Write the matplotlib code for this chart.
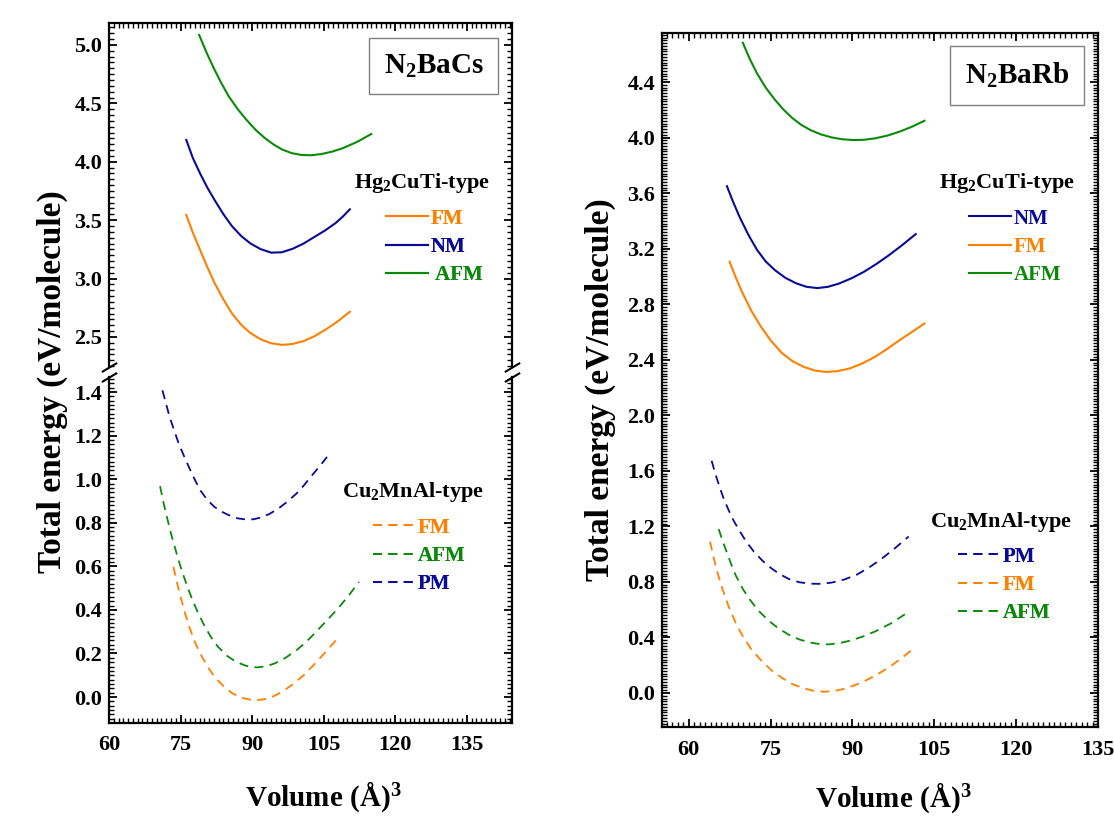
import numpy as np
import matplotlib
matplotlib.use("Agg")
from matplotlib import pyplot as plt
from matplotlib.ticker import MultipleLocator, FormatStrFormatter

plt.rcParams['font.family'] = ['Liberation Serif', 'DejaVu Serif']
plt.rcParams['font.weight'] = 'bold'
plt.rcParams['mathtext.fontset'] = 'custom'
plt.rcParams['mathtext.rm'] = 'Liberation Serif:bold'
plt.rcParams['mathtext.bf'] = 'Liberation Serif:bold'
plt.rcParams['mathtext.default'] = 'rm'

ORANGE = '#FF8000'
BLUE = '#0A0A9A'
GREEN = '#0A8A0A'

# ---------------- N2BaCs (left panel) ----------------
# Hg2CuTi-type (solid)
cs_afm_v = [78.9, 80.5, 82.1, 83.6, 85.1, 87.0, 88.8, 90.7, 92.6, 94.5, 96.3,
            98.3, 100.4, 102.5, 104.5, 106.7, 109.0, 112.0, 115.0]
cs_afm_e = [5.086, 4.93, 4.79, 4.67, 4.56, 4.45, 4.36, 4.275, 4.205, 4.148, 4.105,
            4.074, 4.058, 4.056, 4.066, 4.086, 4.116, 4.17, 4.238]
cs_nm_v = [76.2, 77.6, 79.1, 80.6, 82.1, 84.0, 85.8, 87.7, 89.6, 91.8, 94.0,
           96.2, 98.5, 100.8, 103.0, 105.3, 107.5, 109.0, 110.5]
cs_nm_e = [4.187, 4.03, 3.90, 3.78, 3.675, 3.55, 3.448, 3.365, 3.302, 3.252, 3.222,
           3.225, 3.255, 3.30, 3.355, 3.412, 3.475, 3.53, 3.593]
cs_fm_v = [76.2, 77.6, 79.1, 80.6, 82.1, 84.0, 85.8, 87.7, 89.6, 91.8, 94.0,
           96.3, 98.5, 100.8, 103.0, 105.3, 108.0, 110.5]
cs_fm_e = [3.545, 3.39, 3.245, 3.10, 2.965, 2.82, 2.70, 2.605, 2.535, 2.48, 2.446,
           2.432, 2.44, 2.465, 2.505, 2.56, 2.635, 2.716]
# Cu2MnAl-type (dashed)
cs_pm2_v = [71.2, 72.7, 74.6, 76.1, 77.6, 79.1, 80.6, 82.1, 83.6, 85.1, 87.0, 88.8,
            90.3, 91.8, 93.6, 95.5, 97.4, 99.3, 100.8, 102.3, 104.0, 105.7]
cs_pm2_e = [1.408, 1.286, 1.164, 1.087, 1.015, 0.950, 0.905, 0.873, 0.851, 0.835, 0.82, 0.815,
            0.816, 0.824, 0.84, 0.865, 0.897, 0.934, 0.97, 1.011, 1.055, 1.102]
cs_afm2_v = [70.7, 71.5, 72.3, 73.0, 73.8, 74.5, 75.3, 76.4, 77.6, 78.7, 79.8, 81.3, 82.8,
             84.7, 86.6, 88.8, 91.0, 92.9, 94.8, 97.0, 99.3, 101.2, 103.0, 105.6, 108.3,
             110.4, 112.4]
cs_afm2_e = [0.968, 0.885, 0.812, 0.75, 0.688, 0.634, 0.578, 0.508, 0.44, 0.385, 0.336, 0.278,
             0.232, 0.19, 0.162, 0.143, 0.136, 0.141, 0.155, 0.18, 0.215, 0.25, 0.29, 0.35,
             0.414, 0.47, 0.529]
cs_fm2_v = [73.5, 74.2, 75.0, 75.9, 76.8, 77.9, 79.1, 80.6, 82.1, 83.9, 85.8, 87.7, 89.6,
            91.1, 92.6, 94.4, 96.3, 98.5, 100.8, 102.6, 104.5, 106.2, 107.9]
cs_fm2_e = [0.598, 0.53, 0.46, 0.388, 0.324, 0.258, 0.2, 0.142, 0.094, 0.052, 0.018, -0.003,
            -0.012, -0.014, -0.01, 0.003, 0.024, 0.058, 0.1, 0.14, 0.185, 0.226, 0.269]

# ---------------- N2BaRb (right panel) ----------------
rb_afm_v = [69.9, 71.2, 72.5, 74.1, 75.8, 77.4, 79.0, 80.6, 82.3, 84.2, 86.2, 88.1,
            90.1, 92.1, 94.1, 96.4, 98.6, 100.9, 103.2]
rb_afm_e = [4.683, 4.565, 4.463, 4.36, 4.272, 4.2, 4.14, 4.092, 4.054, 4.023, 4.001, 3.988,
            3.982, 3.984, 3.994, 4.014, 4.042, 4.078, 4.121]
rb_nm_v = [67.0, 68.1, 69.3, 70.9, 72.5, 74.1, 75.8, 77.7, 79.7, 81.6, 83.6, 85.5,
           87.5, 89.8, 92.1, 94.4, 96.7, 99.2, 101.6]
rb_nm_e = [3.65, 3.54, 3.43, 3.302, 3.192, 3.108, 3.045, 2.99, 2.95, 2.925, 2.916, 2.925,
           2.948, 2.986, 3.033, 3.09, 3.153, 3.228, 3.305]
rb_fm_v = [67.5, 68.7, 69.9, 71.5, 73.2, 75.1, 77.1, 79.0, 81.0, 83.1, 85.2, 87.3,
           89.5, 91.8, 94.1, 96.3, 98.6, 100.9, 103.2]
rb_fm_e = [3.105, 2.985, 2.877, 2.75, 2.64, 2.535, 2.447, 2.39, 2.35, 2.322, 2.312, 2.318,
           2.337, 2.373, 2.42, 2.476, 2.54, 2.60, 2.661]
rb_pm2_v = [64.2, 64.9, 65.6, 66.4, 67.3, 68.2, 69.2, 70.5, 71.9, 73.5, 75.1, 76.7,
            78.4, 80.3, 82.3, 84.2, 86.2, 88.5, 90.8, 93.1, 95.4, 97.8, 100.3]
rb_pm2_e = [1.672, 1.575, 1.49, 1.40, 1.318, 1.243, 1.175, 1.092, 1.02, 0.953, 0.899, 0.855,
            0.82, 0.797, 0.787, 0.786, 0.795, 0.817, 0.852, 0.905, 0.968, 1.043, 1.127]
rb_afm2_v = [65.5, 66.2, 67.0, 67.8, 68.6, 69.9, 71.2, 72.8, 74.5, 76.4, 78.4, 80.3,
             82.3, 84.0, 85.6, 87.5, 89.5, 91.8, 94.1, 97.0, 99.9]
rb_afm2_e = [1.18, 1.095, 1.01, 0.925, 0.848, 0.75, 0.672, 0.592, 0.526, 0.466, 0.418, 0.385,
             0.363, 0.352, 0.35, 0.358, 0.376, 0.405, 0.442, 0.5, 0.574]
rb_fm2_v = [63.9, 64.6, 65.3, 66.3, 67.3, 68.6, 69.9, 71.5, 73.2, 75.1, 77.1, 79.0,
            81.0, 82.9, 84.9, 86.8, 88.8, 90.7, 92.7, 94.7, 96.7, 98.8, 100.9]
rb_fm2_e = [1.09, 0.97, 0.862, 0.735, 0.624, 0.505, 0.408, 0.313, 0.238, 0.165, 0.108, 0.064,
            0.034, 0.016, 0.009, 0.015, 0.033, 0.06, 0.095, 0.137, 0.185, 0.245, 0.31]

x_ticks = [60, 75, 90, 105, 120, 135]

DASH = (0, (5, 3.5))
LW_SOLID = 1.5
LW_DASH = 1.3


def style_axes(ax, ymajor, yminor):
    ax.tick_params(which='both', direction='in', top=True, right=True,
                   labelsize=16)
    ax.tick_params(axis='x', pad=9)
    ax.tick_params(axis='y', pad=5)
    ax.tick_params(which='major', length=6, width=1.3)
    ax.tick_params(which='minor', length=3.5, width=1.0)
    ax.xaxis.set_minor_locator(MultipleLocator(1))
    ax.yaxis.set_major_locator(MultipleLocator(ymajor))
    ax.yaxis.set_minor_locator(MultipleLocator(yminor))
    ax.yaxis.set_major_formatter(FormatStrFormatter('%.1f'))
    for sp in ax.spines.values():
        sp.set_linewidth(1.6)


def group_legend(ax, handles, colors, title, title_xy, anchor):
    leg = ax.legend(handles, [h.get_label() for h in handles],
                    loc='center left', bbox_to_anchor=anchor, frameon=False,
                    fontsize=15, borderpad=0, borderaxespad=0,
                    handlelength=2.0, handletextpad=0.15, labelspacing=0.4)
    for txt, c in zip(leg.get_texts(), colors):
        txt.set_color(c)
    ax.add_artist(leg)
    ax.text(title_xy[0], title_xy[1], title, transform=ax.transAxes,
            ha='center', va='center', fontsize=16)


def break_marks(ax, ypos):
    kw = dict(marker=[(-1, -0.6), (1, 0.6)], markersize=11, linestyle='none',
              color='k', mec='k', mew=1.5, clip_on=False)
    ax.plot([0, 1], [ypos, ypos], transform=ax.transAxes, **kw)


def name_box(ax, x, y, s):
    ax.text(x, y, s, transform=ax.transAxes, ha='center', va='center', fontsize=21,
            bbox=dict(boxstyle='square,pad=0.5', fc='white', ec='#808080', lw=1))


fig = plt.figure(figsize=(11.14, 8.19), dpi=100)

# left panel: broken y-axis
ax_top = fig.add_axes([0.09785, 0.5519, 0.3618, 0.4200])
ax_bot = fig.add_axes([0.09785, 0.11722, 0.3618, 0.42247])

h_top = ax_top.plot(cs_fm_v, cs_fm_e, color=ORANGE, lw=LW_SOLID, label='FM')
h_top += ax_top.plot(cs_nm_v, cs_nm_e, color=BLUE, lw=LW_SOLID, label='NM')
h_top += ax_top.plot(cs_afm_v, cs_afm_e, color=GREEN, lw=LW_SOLID, label=' AFM')

h_bot = ax_bot.plot(cs_fm2_v, cs_fm2_e, color=ORANGE, lw=LW_DASH, ls=DASH, label='FM')
h_bot += ax_bot.plot(cs_afm2_v, cs_afm2_e, color=GREEN, lw=LW_DASH, ls=DASH, label='AFM')
h_bot += ax_bot.plot(cs_pm2_v, cs_pm2_e, color=BLUE, lw=LW_DASH, ls=DASH, label='PM')

for ax in (ax_top, ax_bot):
    ax.set_xlim(60, 144.5)
    ax.set_xticks(x_ticks)

ax_top.set_ylim(2.243, 5.188)
ax_bot.set_ylim(-0.119, 1.469)
style_axes(ax_top, 0.5, 0.05)
style_axes(ax_bot, 0.2, 0.02)
ax_top.spines['bottom'].set_visible(False)
ax_top.tick_params(which='both', bottom=False, labelbottom=False)
ax_bot.spines['top'].set_visible(False)
ax_bot.tick_params(which='both', top=False)
break_marks(ax_top, 0)
break_marks(ax_bot, 1)

group_legend(ax_top, h_top, [ORANGE, BLUE, GREEN], 'Hg$_2$CuTi-type',
             (0.777, 0.535), (0.687, 0.349))
group_legend(ax_bot, h_bot, [ORANGE, GREEN, BLUE], 'Cu$_2$MnAl-type',
             (0.754, 0.6676), (0.655, 0.4827))
name_box(ax_top, 0.806, 0.875, 'N$_2$BaCs')

# right panel
ax_r = fig.add_axes([0.59425, 0.11233, 0.39138, 0.84737])
h_r1 = ax_r.plot(rb_nm_v, rb_nm_e, color=BLUE, lw=LW_SOLID, label='NM')
h_r1 += ax_r.plot(rb_fm_v, rb_fm_e, color=ORANGE, lw=LW_SOLID, label='FM')
h_r1 += ax_r.plot(rb_afm_v, rb_afm_e, color=GREEN, lw=LW_SOLID, label='AFM')
h_r2 = ax_r.plot(rb_pm2_v, rb_pm2_e, color=BLUE, lw=LW_DASH, ls=DASH, label='PM')
h_r2 += ax_r.plot(rb_fm2_v, rb_fm2_e, color=ORANGE, lw=LW_DASH, ls=DASH, label='FM')
h_r2 += ax_r.plot(rb_afm2_v, rb_afm2_e, color=GREEN, lw=LW_DASH, ls=DASH, label='AFM')

ax_r.set_xlim(55.1, 135)
ax_r.set_xticks(x_ticks)
ax_r.set_ylim(-0.245, 4.753)
style_axes(ax_r, 0.4, 0.02)

group_legend(ax_r, h_r1, [BLUE, ORANGE, GREEN], 'Hg$_2$CuTi-type',
             (0.791, 0.7839), (0.704, 0.6916))
group_legend(ax_r, h_r2, [BLUE, ORANGE, GREEN], 'Cu$_2$MnAl-type',
             (0.7775, 0.2954), (0.679, 0.2046))
name_box(ax_r, 0.814, 0.939, 'N$_2$BaRb')

# axis labels
fig.text(52 / 1114, 1 - 382 / 819, 'Total energy (eV/molecule)', rotation=90,
         ha='center', va='center', fontsize=24)
fig.text(600 / 1114, 1 - 390 / 819, 'Total energy (eV/molecule)', rotation=90,
         ha='center', va='center', fontsize=24)
fig.text(323 / 1114, 1 - 797 / 819, 'Volume (Å)$^3$', ha='center', va='center',
         fontsize=21)
fig.text(893 / 1114, 1 - 798 / 819, 'Volume (Å)$^3$', ha='center', va='center',
         fontsize=21)

fig.savefig('out.png', dpi=100)
